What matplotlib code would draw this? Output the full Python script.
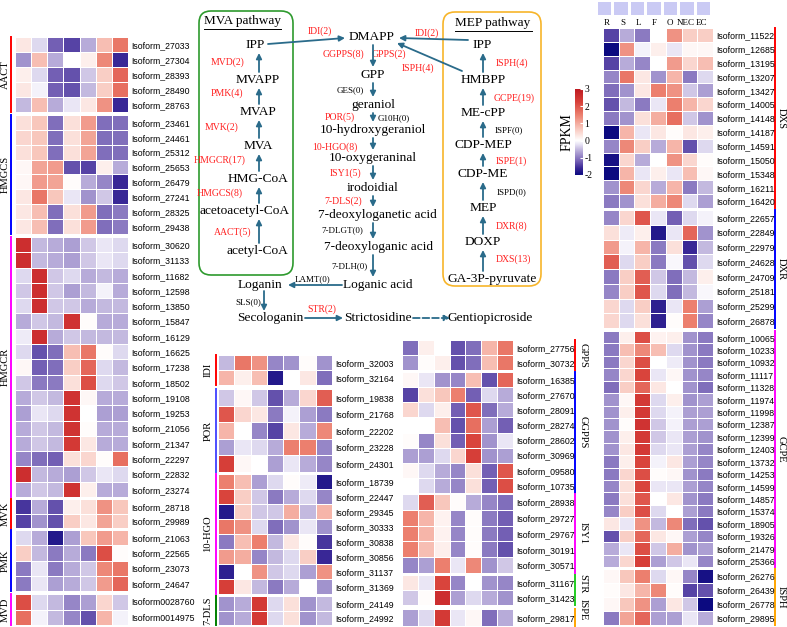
import numpy as np
import matplotlib.pyplot as plt
from matplotlib.colors import LinearSegmentedColormap
from matplotlib.patches import FancyBboxPatch

plt.rcParams['font.family'] = ['Liberation Serif', 'DejaVu Serif']

# ---------------- data ----------------
cols = ['R', 'S', 'L', 'F', 'O', 'NEC', 'EC']

# left heatmap (MVA pathway genes)
aact_ids = ['Isoform_27033', 'Isoform_27304', 'Isoform_28393', 'Isoform_28490', 'Isoform_28763']
aact_vals = [[0.3, -0.3, -1.2, -1.4, -0.6, 0.8, 1.6],
             [-0.8, 0.8, -0.6, 0.0, 0.2, 1.4, -1.6],
             [0.2, -0.3, -1.2, -1.3, -0.4, 0.6, 1.8],
             [0.3, -0.1, -1.2, -1.3, -0.5, 0.6, 1.7],
             [-0.5, 0.8, -0.6, -0.2, 0.3, 1.3, -1.6]]
hmgcs_ids = ['Isoform_23461', 'Isoform_24461', 'Isoform_25312', 'Isoform_25653', 'Isoform_26479',
             'Isoform_27241', 'Isoform_28325', 'Isoform_29438']
hmgcs_vals = [[0.4, 0.7, -1.1, 0.4, 1.2, -1.1, -1.1],
              [0.5, 0.7, -1.1, 0.4, 1.1, -1.1, -1.1],
              [0.4, 0.7, -1.1, 0.4, 1.1, -1.1, -1.1],
              [0.1, 1.1, 1.2, -1.3, -1.4, 0.2, -0.6],
              [0.1, 1.2, 1.1, 0.05, -0.6, -0.9, -1.6],
              [0.3, 1.6, 0.7, -0.2, -0.8, -0.4, -1.6],
              [0.3, 0.8, -1.1, 0.4, 1.2, -1.1, -1.0],
              [0.3, 0.8, -1.1, 0.4, 1.2, -1.1, -1.0]]
hmgcr_ids = ['Isoform_30620', 'Isoform_31133', 'Isoform_11682', 'Isoform_12598', 'Isoform_13850',
             'Isoform_15847', 'Isoform_16129', 'Isoform_16625', 'Isoform_17238', 'Isoform_18502',
             'Isoform_19108', 'Isoform_19253', 'Isoform_21056', 'Isoform_21347', 'Isoform_22297',
             'Isoform_22832', 'Isoform_23274']
hmgcr_vals = [[2.6, -0.5, -0.6, -0.7, -0.4, -0.2, -0.3],
              [2.6, -0.5, -0.6, -0.7, -0.4, -0.2, -0.3],
              [-0.3, 2.6, -0.4, -0.3, -0.6, -0.5, -0.6],
              [-0.4, 2.6, -0.4, -0.7, -0.5, -0.1, -0.6],
              [-0.3, 2.6, -0.4, -0.4, -0.6, -0.5, -0.5],
              [-0.6, -0.4, -0.5, 2.5, 0.05, -0.6, -0.6],
              [-0.15, 2.6, -0.6, -0.4, -0.5, -0.5, -0.5],
              [-0.3, -1.3, -1.1, 0.8, 1.6, 0.05, -0.3],
              [0.1, -1.2, -1.1, 0.6, 1.8, -0.3, -0.5],
              [-0.4, -1.0, -1.0, 0.4, 2.1, -0.3, -0.4],
              [-0.6, -0.4, -0.5, 2.5, 0.1, -0.6, -0.6],
              [-0.7, -0.2, -0.3, 2.5, 0.0, -0.7, -0.7],
              [-0.6, -0.4, -0.5, 2.5, 0.05, -0.6, -0.6],
              [-0.6, -0.4, -0.5, 2.4, 0.3, -0.6, -0.6],
              [-0.9, -1.1, -1.2, 0.4, 0.5, 0.05, 1.7],
              [2.6, -0.5, -0.6, -0.7, -0.4, -0.2, -0.3],
              [-0.6, -0.4, -0.5, 2.5, 0.2, -0.6, -0.6]]
mvk_ids = ['Isoform_28718', 'Isoform_29989']
mvk_vals = [[-1.5, -0.6, -1.3, 0.2, 0.4, 1.3, 0.7],
            [-1.4, -0.8, -1.3, 0.6, 0.3, 1.1, 0.6]]
pmk_ids = ['Isoform_21063', 'Isoform_22565', 'Isoform_23073', 'Isoform_24647']
pmk_vals = [[-0.3, -0.6, -1.8, -0.7, 0.7, 1.2, 0.9],
            [0.6, -0.5, -1.0, -0.6, -1.0, 2.1, 0.05],
            [-1.0, -0.2, -1.0, -0.6, -0.4, 1.4, 1.6],
            [-1.0, -0.2, -0.7, -0.6, -0.4, 1.2, 1.8]]
mvd_ids = ['Isoform0028760', 'Isoform0014975']
mvd_vals = [[2.1, -0.3, -0.5, -0.9, -0.7, 0.5, -0.4],
            [1.7, -0.1, -0.5, -0.9, -1.3, 0.9, -0.1]]

# middle-left heatmap
idi_ids = ['Isoform_32003', 'Isoform_32164']
idi_vals = [[-0.5, 1.6, 1.3, -0.9, -0.8, 0.05, -0.8],
            [0.9, 0.2, 0.8, -1.8, 0.0, 0.3, -1.1]]
por_ids = ['Isoform_19838', 'Isoform_21768', 'Isoform_22202', 'Isoform_23228', 'Isoform_24301']
por_vals = [[-0.4, 0.1, -0.4, -1.3, -0.6, 0.5, 1.9],
            [2.0, 0.5, 0.3, -1.0, -0.1, -0.7, -1.0],
            [0.9, 0.0, -0.9, -1.4, 0.3, -0.6, 1.4],
            [-0.7, -0.2, -0.3, -0.6, 1.5, 1.5, -0.9],
            [2.3, 0.1, 0.0, -0.7, -0.2, -0.6, -0.9]]
hgo_ids = ['Isoform_18739', 'Isoform_22447', 'Isoform_29345', 'Isoform_30333', 'Isoform_30838',
           'Isoform_30856', 'Isoform_31137', 'Isoform_31369']
hgo_vals = [[1.5, 0.8, -0.7, -0.3, 0.05, -0.15, -1.8],
            [2.2, 0.6, -0.4, -1.0, -0.6, -0.3, -0.9],
            [-1.8, 0.6, -0.4, -0.4, 1.0, -0.5, 0.9],
            [1.6, 1.3, -0.3, -1.1, -0.8, -0.2, -0.8],
            [-1.0, 0.8, 1.5, -0.5, 0.3, 0.05, -1.5],
            [1.2, 1.0, -0.9, -0.5, -0.3, 0.6, -1.6],
            [-1.7, 0.0, 1.3, -0.4, -0.3, -0.7, 1.3],
            [2.3, 0.3, -0.5, -1.0, -0.6, 0.0, -0.8]]
dls_ids = ['Isoform_24149', 'Isoform_24992']
dls_vals = [[-0.8, -0.6, 2.4, -0.3, 0.4, -0.8, -0.5],
            [-0.8, -0.6, 2.4, -0.3, 0.4, -0.8, -0.5]]

# middle-right heatmap
gpps_ids = ['Isoform_27756', 'Isoform_30732']
gpps_vals = [[-1.1, 0.2, 0.0, -1.3, -1.1, 0.9, 1.6],
             [-0.8, 0.05, 0.2, -1.3, -1.1, 0.8, 1.6]]
ggpps_ids = ['Isoform_16385', 'Isoform_27670', 'Isoform_28091', 'Isoform_28274', 'Isoform_28602',
             'Isoform_30969', 'Isoform_09580', 'Isoform_10735']
ggpps_vals = [[0.1, -0.2, -0.8, -0.9, 0.8, -1.3, 1.8],
              [-1.4, 0.4, 0.7, 1.5, -1.2, -0.3, -0.6],
              [0.5, -0.3, 0.2, -1.2, 2.0, -1.1, -0.6],
              [0.0, 0.0, 0.8, -1.3, 1.7, -0.7, -1.2],
              [0.05, -0.9, 0.4, -1.2, 2.2, -0.8, -0.2],
              [-0.7, -0.7, -0.3, 0.5, 2.3, -0.8, -0.7],
              [0.1, -0.3, -0.6, -0.9, 0.4, -1.2, 2.0],
              [0.0, -0.3, -0.6, -0.9, 0.4, -1.2, 2.1]]
isy_ids = ['Isoform_28938', 'Isoform_29727', 'Isoform_29767', 'Isoform_30191', 'Isoform_30571']
isy_vals = [[-0.3, 1.9, 0.7, 0.05, -0.6, -0.9, -1.1],
            [1.5, 0.9, 0.15, -0.9, 0.05, -1.0, -1.2],
            [1.5, 0.9, 0.15, -0.9, 0.05, -1.0, -1.2],
            [1.5, 0.8, 0.2, -0.9, 0.05, -1.0, -1.3],
            [-0.9, -0.7, 1.5, -0.2, 1.4, -0.8, -0.4]]
str_ids = ['Isoform_31167', 'Isoform_31423']
str_vals = [[0.3, -0.2, 2.2, -0.9, 0.0, -0.8, -0.9],
            [-0.4, 0.05, 2.6, -0.7, -0.3, -0.6, -0.8]]
ispe_ids = ['Isoform_29817']
ispe_vals = [[-0.7, -0.3, 2.4, -0.2, 0.1, -1.1, -0.6]]

# right heatmap (MEP pathway genes)
dxs_ids = ['Isoform_11522', 'Isoform_12685', 'Isoform_13195', 'Isoform_13207', 'Isoform_13427',
           'Isoform_14005', 'Isoform_14148', 'Isoform_14187', 'Isoform_14591', 'Isoform_15050',
           'Isoform_15348', 'Isoform_16211', 'Isoform_16420']
dxs_vals = [[-1.4, -0.6, -1.0, 0.0, 1.3, 0.6, 0.6],
            [-2.0, 1.3, -0.1, 0.2, -0.2, 0.1, 0.1],
            [-1.4, -0.6, -0.9, 0.0, 1.2, 0.5, 0.8],
            [-0.9, 1.6, 0.3, -0.8, 0.9, -1.0, -0.3],
            [-1.1, -0.8, 0.3, 1.5, 1.3, -0.4, -0.7],
            [-1.3, -0.5, -1.0, -0.2, 1.5, 0.9, 0.5],
            [-1.0, -0.8, 0.4, 1.0, 1.7, -0.4, -0.8],
            [-2.2, 0.9, -0.2, 0.3, 0.05, 0.3, 0.2],
            [-0.9, 1.4, 0.6, -0.6, 0.9, -1.3, -0.3],
            [-1.9, 0.5, -0.6, 0.0, 1.3, 0.5, 0.05],
            [-2.0, 0.9, -0.2, 0.2, -0.2, 0.8, 0.1],
            [-0.8, 1.4, 0.5, -0.6, 0.9, -1.0, -0.5],
            [-1.0, -0.8, 0.4, 1.0, 1.4, -0.3, -0.7]]
dxr_ids = ['Isoform_22657', 'Isoform_22849', 'Isoform_22979', 'Isoform_24628', 'Isoform_24709',
           'Isoform_25181', 'Isoform_25299', 'Isoform_26878']
dxr_vals = [[-0.9, 0.5, 2.0, -0.2, -1.2, -0.3, -0.1],
            [0.4, -0.15, 0.2, -1.8, -0.2, 1.8, -0.8],
            [1.2, -0.1, 0.9, -1.0, 0.4, -1.6, -0.5],
            [1.9, -0.3, 0.6, -1.0, -0.05, -1.3, -0.3],
            [-1.0, 0.6, 1.9, -0.4, -1.1, -0.5, 0.2],
            [-0.9, 0.6, 2.0, -0.3, -1.1, -0.5, -0.05],
            [0.5, -0.3, 0.6, -1.7, -0.2, 1.5, -0.7],
            [0.5, -0.3, 0.4, -1.7, 0.05, 1.5, -0.9]]
gcpe_ids = ['Isoform_10065', 'Isoform_10233', 'Isoform_10932', 'Isoform_11117', 'Isoform_11328',
            'Isoform_11974', 'Isoform_11998', 'Isoform_12387', 'Isoform_12399', 'Isoform_12403',
            'Isoform_13732', 'Isoform_14253', 'Isoform_14599', 'Isoform_14857', 'Isoform_15374',
            'Isoform_18905', 'Isoform_19326', 'Isoform_21479', 'Isoform_25366']
gcpe_vals = [[-1.0, 0.2, 2.1, 0.15, 0.2, -0.8, -1.0],
             [-1.0, 0.8, 1.4, 0.8, -0.3, -0.8, -1.0],
             [-1.0, 0.5, 2.1, 0.0, -0.15, -0.8, -1.0],
             [-0.9, 0.5, 2.2, -0.2, 0.1, -0.8, -0.9],
             [-1.1, 0.6, 1.8, 0.3, 0.0, -0.8, -1.1],
             [-0.8, 0.1, 2.4, -0.3, 0.2, -0.8, -0.7],
             [-0.8, 0.2, 2.4, -0.3, -0.1, -0.7, -0.7],
             [-0.8, 0.05, 2.5, -0.4, -0.1, -0.7, -0.7],
             [-0.8, 0.2, 2.4, -0.4, -0.2, -0.7, -0.8],
             [-0.8, 0.3, 2.4, -0.3, -0.2, -0.7, -0.9],
             [-1.0, 0.2, 2.2, -0.1, 0.3, -0.7, -0.9],
             [-1.0, 0.5, 2.1, 0.05, 0.1, -0.8, -1.0],
             [-0.9, 0.4, 2.2, -0.2, -0.2, -0.7, -0.9],
             [-1.0, 0.4, 2.0, 0.0, 0.3, -0.8, -1.0],
             [-0.9, 0.6, 2.1, -0.3, 0.0, -0.7, -1.0],
             [0.3, -0.2, 1.3, -0.5, 1.4, -1.1, -1.3],
             [-1.3, 0.6, 1.8, 0.3, 0.1, -0.7, -0.9],
             [-0.6, -0.2, 2.1, -0.4, 1.0, -0.8, -0.7],
             [-0.6, 0.5, 2.3, -0.7, -0.4, -0.2, -0.9]]
isph_ids = ['Isoform_26276', 'Isoform_26439', 'Isoform_26778', 'Isoform_29895']
isph_vals = [[0.1, 0.7, 1.5, -0.3, 0.1, -0.9, -1.9],
             [0.05, 0.3, 0.9, 1.4, 0.05, -1.4, -1.3],
             [0.1, 0.7, 1.3, -0.7, 0.3, -0.4, -2.0],
             [-1.0, 1.1, 1.8, -0.7, -0.7, -0.2, -0.6]]

cbar_ticks = [-2, -1, 0, 1, 2, 3]

# ---------------- figure ----------------
W, H = 787, 627
fig = plt.figure(figsize=(W / 100, H / 100), dpi=100)
ov = fig.add_axes([0, 0, 1, 1])
ov.set_xlim(0, W)
ov.set_ylim(H, 0)
ov.axis('off')

cmap = LinearSegmentedColormap.from_list('pwr', [
    (0.0, '#0c0a80'), (0.08, '#3a2896'), (0.16, '#7561b5'), (0.28, '#b8acd9'),
    (0.35, '#e4dff2'), (0.4, '#ffffff'), (0.55, '#f8c3b8'), (0.7, '#ec806f'),
    (0.85, '#d8413a'), (1.0, '#bf1a22')])
VMIN, VMAX = -2, 3


def fbox(x0, y0, x1, y1):
    return [x0 / W, 1 - y1 / H, (x1 - x0) / W, (y1 - y0) / H]


def heat(vals, ids, x0, y0, x1, y1):
    ax = fig.add_axes(fbox(x0, y0, x1, y1))
    arr = np.array(vals)
    ax.pcolormesh(arr, cmap=cmap, vmin=VMIN, vmax=VMAX, edgecolors='white', linewidth=0.7)
    ax.set_xlim(0, arr.shape[1])
    ax.set_ylim(arr.shape[0], 0)
    ax.set_xticks([])
    ax.yaxis.tick_right()
    ax.set_yticks(np.arange(len(ids)) + 0.5)
    ax.set_yticklabels(ids, family='Liberation Sans', fontsize=6.3)
    ax.tick_params(axis='y', length=0, pad=2)
    for s in ax.spines.values():
        s.set_visible(False)
    return ax


def group(name, color, y0, y1, xline, xtext, side, dy=0):
    ov.plot([xline, xline], [y0, y1], color=color, lw=1.4)
    ov.text(xtext, (y0 + y1) / 2 + dy, name, rotation=90 if side == 'left' else 270,
            ha='center', va='center', fontsize=7.6)


panels = [
    ('AACT', aact_ids, aact_vals, 15, 128, 37, 112, 'red', 'left', 0),
    ('HMGCS', hmgcs_ids, hmgcs_vals, 15, 128, 115, 234, 'blue', 'left', 0),
    ('HMGCR', hmgcr_ids, hmgcr_vals, 15, 128, 237, 497, 'magenta', 'left', 0),
    ('MVK', mvk_ids, mvk_vals, 15, 128, 499, 528, 'red', 'left', 0),
    ('PMK', pmk_ids, pmk_vals, 15, 128, 530, 591, 'blue', 'left', 0),
    ('MVD', mvd_ids, mvd_vals, 15, 128, 594, 625, 'magenta', 'left', 0),
    ('IDI', idi_ids, idi_vals, 218, 332, 355, 385, 'red', 'left', 0),
    ('POR', por_ids, por_vals, 218, 332, 389, 472, '#4d4dff', 'left', 0),
    ('10-HGO', hgo_ids, hgo_vals, 218, 332, 474, 594, 'magenta', 'left', 0),
    ('7-DLS', dls_ids, dls_vals, 218, 332, 596, 625, 'green', 'left', 0),
    ('GPPS', gpps_ids, gpps_vals, 402, 513, 340, 370, 'red', 'right', 0),
    ('GGPPS', ggpps_ids, ggpps_vals, 402, 513, 372, 493, 'blue', 'right', 0),
    ('ISY1', isy_ids, isy_vals, 402, 513, 494, 573, 'magenta', 'right', 0),
    ('STR', str_ids, str_vals, 402, 513, 575, 605, '#22cc22', 'right', -6),
    ('ISPE', ispe_ids, ispe_vals, 402, 513, 609, 626, 'orange', 'right', -8),
    ('DXS', dxs_ids, dxs_vals, 603, 713, 28, 208, 'red', 'right', 0),
    ('DXR', dxr_ids, dxr_vals, 603, 713, 210, 328, 'blue', 'right', 0),
    ('GCPE', gcpe_ids, gcpe_vals, 603, 713, 331, 567, 'magenta', 'right', 0),
    ('ISPH', isph_ids, isph_vals, 603, 713, 569, 625, 'orange', 'right', 0),
]
group_x = {15: (11, 5), 218: (216, 208), 402: (575, 583), 603: (775, 781)}

for name, ids, vals, x0, x1, y0, y1, color, side, dy in panels:
    heat(vals, ids, x0, y0, x1, y1)
    xl, xt = group_x[x0]
    group(name, color, y0, y1, xl, xt, side, dy)

# header strip and column labels of right heatmap
hax = fig.add_axes(fbox(596, 0, 711, 16))
hax.pcolormesh(np.zeros((1, len(cols))), cmap=LinearSegmentedColormap.from_list('h', ['#cacaf4', '#cacaf4']),
               edgecolors='white', linewidth=0.8)
hax.axis('off')
for i, c in enumerate(cols):
    ov.text(603 + (i + 0.5) * 110 / 7 - 4, 23, c, ha='center', va='center', fontsize=6.5)

# colorbar
cax = fig.add_axes(fbox(575, 89, 583, 175))
grad = np.linspace(VMIN, VMAX, 256).reshape(-1, 1)
cax.imshow(grad, cmap=cmap, vmin=VMIN, vmax=VMAX, aspect='auto', origin='lower',
           extent=[0, 1, VMIN, VMAX])
cax.set_xticks([])
cax.yaxis.tick_right()
cax.set_yticks(cbar_ticks)
cax.set_yticklabels([str(t) for t in cbar_ticks], fontsize=7)
cax.tick_params(axis='y', length=2, pad=1, direction='in', color='white')
for s in cax.spines.values():
    s.set_visible(False)
ov.text(567, 132, 'FPKM', rotation=90, ha='center', va='center', fontsize=10)

# ---------------- pathway diagram ----------------
acol = '#2a6b8a'
red = '#ff2020'


def arrow(x0, y0, x1, y1, ls='-'):
    ov.annotate('', xy=(x1, y1), xytext=(x0, y0),
                arrowprops=dict(arrowstyle='-|>', color=acol, lw=1.3, mutation_scale=8,
                                shrinkA=0, shrinkB=0, linestyle=ls))


ov.add_patch(FancyBboxPatch((199, 11), 94, 264, boxstyle='round,pad=0,rounding_size=12',
                            fc='none', ec='#2e9a2e', lw=1.2))
ov.add_patch(FancyBboxPatch((443, 12), 98, 274, boxstyle='round,pad=0,rounding_size=12',
                            fc='none', ec='#f7b52a', lw=1.2))
ov.text(242, 21, 'MVA pathway', ha='center', va='center', fontsize=9.5)
ov.plot([204, 281], [29, 29], color='k', lw=0.7)
ov.text(493, 23, 'MEP pathway', ha='center', va='center', fontsize=9.5)
ov.plot([455, 532], [31, 31], color='k', lw=0.7)

mva_nodes = [('IPP', 255, 45), ('MVAPP', 258, 80), ('MVAP', 258, 112), ('MVA', 258, 146),
             ('HMG-CoA', 258, 179), ('acetoacetyl-CoA', 245, 211), ('acetyl-CoA', 257, 251)]
mva_enz = [('MVD(2)', 228, 62), ('PMK(4)', 227, 93), ('MVK(2)', 222, 127), ('HMGCR(17)', 220, 160),
           ('HMGCS(8)', 220, 193), ('AACT(5)', 233, 232)]
mid_nodes = [('DMAPP', 372, 37), ('GPP', 373, 75), ('geraniol', 373, 105),
             ('10-hydroxygeraniol', 373, 130), ('10-oxygeraninal', 373, 158), ('irodoidial', 373, 188),
             ('7-deoxyloganetic acid', 377, 215), ('7-deoxyloganic acid', 378, 247),
             ('Loganic acid', 378, 285)]
mid_enz = [('GGPPS(8)', 343, 54, red), ('GPPS(2)', 389, 54, red), ('GES(0)', 350, 90, 'k'),
           ('POR(5)', 340, 117, red), ('G10H(0)', 394, 118, 'k'), ('10-HGO(8)', 335, 147, red),
           ('ISY1(5)', 345, 173, red), ('7-DLS(2)', 343, 201, red), ('7-DLGT(0)', 342, 230, 'k'),
           ('7-DLH(0)', 350, 266, 'k'), ('IDI(2)', 320, 31, red), ('IDI(2)', 427, 33, red),
           ('ISPH(4)', 418, 68, red), ('LAMT(0)', 313, 279, 'k'), ('SLS(0)', 248, 302, 'k'),
           ('STR(2)', 322, 309, red)]
mep_nodes = [('IPP', 482, 45), ('HMBPP', 483, 80), ('ME-cPP', 483, 113), ('CDP-MEP', 483, 145),
             ('CDP-ME', 483, 174), ('MEP', 483, 208), ('DOXP', 483, 242), ('GA-3P-pyruvate', 492, 279)]
mep_enz = [('ISPH(4)', 512, 63, red), ('GCPE(19)', 514, 98, red), ('ISPF(0)', 509, 130, 'k'),
           ('ISPE(1)', 511, 161, red), ('ISPD(0)', 512, 192, 'k'), ('DXR(8)', 512, 226, red),
           ('DXS(13)', 513, 259, red)]
end_nodes = [('Loganin', 260, 285), ('Secologanin', 270, 318), ('Strictosidine', 378, 318),
             ('Gentiopicroside', 490, 318)]

for t, x, y in mva_nodes + mid_nodes + mep_nodes + end_nodes:
    ov.text(x, y, t, ha='center', va='center', fontsize=9.6)
for t, x, y in mva_enz:
    ov.text(x, y, t, ha='center', va='center', fontsize=7, color=red)
for t, x, y, c in mid_enz + mep_enz:
    ov.text(x, y, t, ha='center', va='center', fontsize=7 if c == red else 6.5, color=c)

# arrows
mva_y = [y for _, _, y in mva_nodes]
for a, b in zip(mva_y[1:], mva_y[:-1]):
    arrow(259, a - 8, 259, b + 8)
mid_y = [y for _, _, y in mid_nodes]
for a, b in zip(mid_y[:-1], mid_y[1:]):
    arrow(373, a + 8, 373, b - 8)
mep_y = [y for _, _, y in mep_nodes]
for a, b in zip(mep_y[1:], mep_y[:-1]):
    arrow(483, a - 8, 483, b + 8)
arrow(268, 44, 345, 38)
arrow(468, 40, 399, 38)
arrow(462, 71, 397, 43)
arrow(342, 285, 288, 285)
arrow(264, 291, 264, 311)
arrow(305, 318, 343, 318)
arrow(413, 318, 450, 318, ls='--')

fig.savefig('out.png', dpi=100)
